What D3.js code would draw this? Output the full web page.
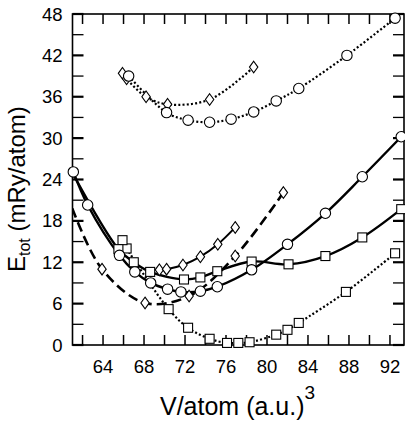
<!DOCTYPE html>
<html><head><meta charset="utf-8">
<script src="https://cdn.jsdelivr.net/npm/d3@7"></script>
<style>body{margin:0;background:#fff}svg{display:block}text{font-family:"Liberation Sans",Arial,sans-serif;fill:#000}</style>
</head><body><svg id="c" width="405" height="423"></svg>
<script>
// ---- data ----
const xTickVals = [62,64,66,68,70,72,74,76,78,80,82,84,86,88,90,92];
const xTickLabels = [64,68,72,76,80,84,88,92];
const yTickVals = [0,3,6,9,12,15,18,21,24,27,30,33,36,39,42,45,48];
const yTickLabels = [0,6,12,18,24,30,36,42,48];

// solid line, circles
const circSolidV = [61.1, 62.5, 65.6, 67.1, 68.65, 70.3, 71.6, 73.5, 75.15, 78.5, 82.0, 85.7, 89.3, 93.1];
const circSolidE = [25.1, 20.3, 13.0, 10.6, 9.0, 8.1, 7.7, 7.8, 8.45, 10.9, 14.6, 19.1, 24.4, 30.2];
// solid line, squares (line starts at the axis)
const sqSolidLineV = [61.0, 65.5, 67.0, 68.6, 71.9, 73.5, 75.15, 78.5, 82.1, 85.7, 89.3, 93.1];
const sqSolidLineE = [25.0, 13.9, 12.0, 10.6, 9.5, 9.8, 10.7, 12.1, 11.7, 12.9, 15.6, 19.7];
const sqSolidV = [65.5, 67.0, 68.6, 71.9, 73.5, 75.15, 78.5, 82.1, 85.7, 89.3, 93.1];
const sqSolidE = [13.9, 12.0, 10.6, 9.5, 9.8, 10.7, 12.1, 11.7, 12.9, 15.6, 19.7];
// solid line, diamonds
const dmSolidV = [69.5, 70.2, 71.8, 73.5, 75.2, 76.9];
const dmSolidE = [10.9, 11.0, 11.6, 12.8, 14.6, 17.05];
// dashed line, diamonds
const dmDashLineV = [61.0, 63.9, 68.1, 72.4, 76.9, 81.6];
const dmDashLineE = [19.8, 11.0, 6.1, 7.1, 12.9, 22.1];
const dmDashV = [63.9, 68.1, 72.4, 76.9, 81.6];
const dmDashE = [11.0, 6.1, 7.1, 12.9, 22.1];
// dotted line, squares (low)
const sqDotV = [66.3, 70.4, 72.3, 74.4, 76.1, 77.2, 78.3, 80.9, 82.0, 83.1, 87.7, 92.5];
const sqDotE = [14.0, 5.2, 2.5, 0.9, 0.3, 0.3, 0.4, 1.5, 2.2, 3.2, 7.7, 13.3];
const sqExtraV = [65.9];
const sqExtraE = [15.2];
// dotted line, circles (high)
const circDotV = [66.5, 70.2, 72.3, 74.4, 76.5, 78.7, 80.9, 83.1, 87.8, 92.5];
const circDotE = [39.0, 33.7, 32.6, 32.3, 32.75, 33.8, 35.4, 37.2, 42.0, 47.4];
// dotted line, diamonds (high)
const dmDotV = [65.9, 66.3, 68.2, 70.3, 74.4, 78.7];
const dmDotE = [39.4, 38.6, 36.0, 34.9, 35.6, 40.3];

// ---- chart ----
const L = 72.5, R = 404, T = 14, B = 345;
const svg = d3.select("#c");
const x = d3.scaleLinear().domain([61.02, 93.37]).range([L, R]);
const y = d3.scaleLinear().domain([0, 48]).range([B, T]);
const zip = (a, b) => a.map((v, i) => [v, b[i]]);
const line = d3.line().x(d => x(d[0])).y(d => y(d[1])).curve(d3.curveCatmullRom.alpha(0.5));

svg.append("clipPath").attr("id", "clip").append("rect")
  .attr("x", L).attr("y", T).attr("width", R - L).attr("height", B - T);
const gl = svg.append("g").attr("clip-path", "url(#clip)");

function drawLine(data, dash, w) {
  gl.append("path").attr("d", line(data)).attr("fill", "none")
    .attr("stroke", "#000").attr("stroke-width", w)
    .attr("stroke-dasharray", dash || null);
}
drawLine(zip(circDotV, circDotE), "2,2.2", 2.2);
drawLine(zip(dmDotV, dmDotE), "2,2.2", 2.2);
drawLine(zip(sqDotV, sqDotE), "2,2.2", 2.2);
drawLine(zip(dmDashLineV, dmDashLineE), "10,5", 2.6);
drawLine(zip(sqSolidLineV, sqSolidLineE), null, 2.4);
drawLine(zip(circSolidV, circSolidE), null, 2.4);
drawLine(zip(dmSolidV, dmSolidE), null, 2.0);

// axes frame & ticks
const ax = svg.append("g").attr("stroke", "#000");
ax.append("rect").attr("x", L).attr("y", T).attr("width", R - L).attr("height", B - T)
  .attr("fill", "none").attr("stroke-width", 1.6);
xTickVals.forEach(v => {
  ax.append("line").attr("x1", x(v)).attr("x2", x(v)).attr("y1", B).attr("y2", B - 10).attr("stroke-width", 1.5);
  ax.append("line").attr("x1", x(v)).attr("x2", x(v)).attr("y1", T).attr("y2", T + 10).attr("stroke-width", 1.5);
});
yTickVals.forEach(v => {
  const major = v % 6 === 0;
  const w = major ? 2.2 : 1.3;
  ax.append("line").attr("x1", L).attr("x2", L + 11).attr("y1", y(v)).attr("y2", y(v)).attr("stroke-width", w);
  ax.append("line").attr("x1", R).attr("x2", R - 11).attr("y1", y(v)).attr("y2", y(v)).attr("stroke-width", w);
});

// markers
const gm = svg.append("g").attr("fill", "#fff").attr("stroke", "#000").attr("stroke-width", 1.1);
function circles(vs, es) {
  zip(vs, es).forEach(d => gm.append("circle").attr("cx", x(d[0])).attr("cy", y(d[1])).attr("r", 5.2));
}
function squares(vs, es) {
  zip(vs, es).forEach(d => gm.append("rect").attr("x", x(d[0]) - 4.5).attr("y", y(d[1]) - 4.5).attr("width", 9).attr("height", 9));
}
function diamonds(vs, es) {
  zip(vs, es).forEach(d => {
    const cx = x(d[0]), cy = y(d[1]);
    gm.append("path").attr("d", `M${cx},${cy - 5.8}L${cx + 4.2},${cy}L${cx},${cy + 5.8}L${cx - 4.2},${cy}Z`);
  });
}
diamonds(dmDotV, dmDotE);
circles(circDotV, circDotE);
squares(sqDotV, sqDotE);
squares(sqExtraV, sqExtraE);
diamonds(dmDashV, dmDashE);
diamonds(dmSolidV, dmSolidE);
squares(sqSolidV, sqSolidE);
circles(circSolidV, circSolidE);

// tick labels
svg.append("g").selectAll("text").data(xTickLabels).join("text")
  .attr("x", d => x(d)).attr("y", 373).attr("text-anchor", "middle")
  .attr("font-size", 18.5).text(d => d);
svg.append("g").selectAll("text").data(yTickLabels).join("text")
  .attr("x", 62.5).attr("y", d => y(d) + 6.6).attr("text-anchor", "end")
  .attr("font-size", 18.5).text(d => d);

// axis titles
const xt = svg.append("text").attr("x", 160).attr("y", 415).attr("font-size", 25);
xt.append("tspan").text("V/atom (a.u.)");
xt.append("tspan").attr("dy", -16).attr("font-size", 19).text("3");

const yt = svg.append("text").attr("transform", "translate(25,272) rotate(-90)").attr("font-size", 24);
yt.append("tspan").text("E");
yt.append("tspan").attr("dy", 5).attr("font-size", 16).text("tot");
yt.append("tspan").attr("dy", -5).text(" (mRy/atom)");
</script>
</body></html>
